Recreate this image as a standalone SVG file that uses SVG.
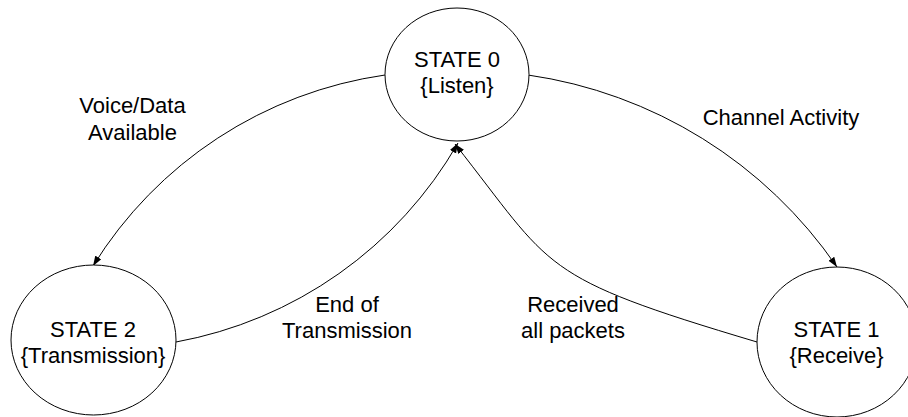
<svg xmlns="http://www.w3.org/2000/svg" width="908" height="417" viewBox="0 0 908 417">
<style>
.node ellipse{fill:#fff;stroke:#000;stroke-width:1}
text{font-family:"Liberation Sans",Arial,sans-serif;font-size:22px;fill:#000;text-anchor:middle}
.edge{fill:none;stroke:#000;stroke-width:1;marker-end:url(#arr)}
</style>
<defs>
<marker id="arr" markerUnits="userSpaceOnUse" markerWidth="11" markerHeight="8" refX="10" refY="4" orient="auto">
<path d="M0,0.5 L10,4 L0,7.5 z" fill="#000"/>
</marker>
</defs>
<rect width="908" height="417" fill="#fff"/>
<g id="connectors">
<path class="edge" d="M385,75 A412,412 0 0,0 93,266"/>
<path class="edge" d="M528,75 A453,453 0 0,1 837,267"/>
<path class="edge" d="M176,342 A410,410 0 0,0 458,143"/>
<path class="edge" d="M757,342 C536.7,276.4 554.2,269.8 455,144"/>
<text x="132.5" y="113">Voice/Data</text>
<text x="132.5" y="139.5">Available</text>
<text x="781" y="125">Channel Activity</text>
<text x="347" y="312">End of</text>
<text x="347" y="338">Transmission</text>
<text x="573" y="312">Received</text>
<text x="573" y="338">all packets</text>
</g>
<g id="state0" class="node">
<ellipse cx="457" cy="74.5" rx="72" ry="66.5"/>
<text x="457" y="67">STATE 0</text>
<text x="457" y="93">{Listen}</text>
</g>
<g id="state2" class="node">
<ellipse cx="93.5" cy="340" rx="82.5" ry="75"/>
<text x="93" y="337">STATE 2</text>
<text x="93" y="363">{Transmission}</text>
</g>
<g id="state1" class="node">
<ellipse cx="837" cy="342" rx="80" ry="75"/>
<text x="836.5" y="337">STATE 1</text>
<text x="836.5" y="363">{Receive}</text>
</g>
</svg>
